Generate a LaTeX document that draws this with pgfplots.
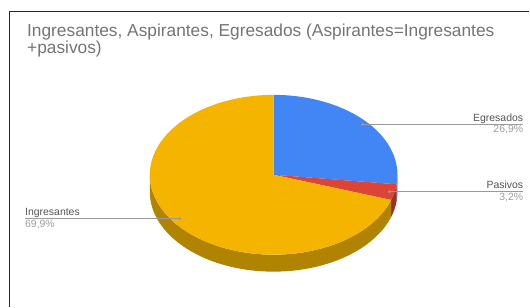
\documentclass[border=0pt]{standalone}
\usepackage{pgfplots}
\pgfplotsset{compat=1.18}
\usepackage{fontspec}
\setmainfont{Liberation Sans}
\definecolor{cblue}{HTML}{4285F4}
\definecolor{cred}{HTML}{DB4437}
\definecolor{cyel}{HTML}{F4B400}
\definecolor{sblue}{HTML}{2D5DB0}
\definecolor{sred}{HTML}{9E2F27}
\definecolor{syel}{HTML}{B08300}
\definecolor{ttl}{HTML}{757575}
\definecolor{lbl}{HTML}{555555}
\definecolor{pct}{HTML}{9E9E9E}
\definecolor{lin}{HTML}{9A9A9A}
\begin{document}
\begin{tikzpicture}
% data (percent)
\def\vEgr{26.9}
\def\vPas{3.2}
\def\vIng{69.9}
% geometry (pixels)
\def\cx{274}\def\cy{-175}\def\rx{124}\def\ry{80}\def\dep{17}
\pgfmathsetmacro\aA{90}
\pgfmathsetmacro\aB{\aA-3.6*\vEgr}
\pgfmathsetmacro\aC{\aB-3.6*\vPas}
\pgfmathsetmacro\aD{\aC-3.6*\vIng}
\pgfmathsetmacro\xA{\cx+\rx*cos(\aA)}\pgfmathsetmacro\yA{\cy+\ry*sin(\aA)}
\pgfmathsetmacro\xB{\cx+\rx*cos(\aB)}\pgfmathsetmacro\yB{\cy+\ry*sin(\aB)}
\pgfmathsetmacro\xC{\cx+\rx*cos(\aC)}\pgfmathsetmacro\yC{\cy+\ry*sin(\aC)}
\pgfmathsetmacro\xZ{\cx+\rx}\pgfmathsetmacro\xL{\cx-\rx}
\pgfmathsetmacro\yZ{\cy}\pgfmathsetmacro\yZd{\cy-\dep}
\pgfmathsetmacro\yBd{\yB-\dep}\pgfmathsetmacro\yCd{\yC-\dep}
\begin{axis}[scale only axis, width=530bp, height=307bp,
  xmin=0, xmax=530, ymin=-307, ymax=0, hide axis, clip=false]
\fill[white] (axis cs:0,-307) rectangle (axis cs:530,0);
% side walls
\fill[sblue] (axis cs:\xZ,\yZ) arc[start angle=0, end angle=\aB, x radius=\rx, y radius=\ry]
  -- (axis cs:\xB,\yBd) arc[start angle=\aB, end angle=0, x radius=\rx, y radius=\ry] -- cycle;
\fill[sred] (axis cs:\xB,\yB) arc[start angle=\aB, end angle=\aC, x radius=\rx, y radius=\ry]
  -- (axis cs:\xC,\yCd) arc[start angle=\aC, end angle=\aB, x radius=\rx, y radius=\ry] -- cycle;
\fill[syel] (axis cs:\xC,\yC) arc[start angle=\aC, end angle=-180, x radius=\rx, y radius=\ry]
  -- (axis cs:\xL,\yZd) arc[start angle=-180, end angle=\aC, x radius=\rx, y radius=\ry] -- cycle;
% top faces
\fill[cblue] (axis cs:\cx,\cy) -- (axis cs:\xA,\yA) arc[start angle=\aA, end angle=\aB, x radius=\rx, y radius=\ry] -- cycle;
\fill[cred] (axis cs:\cx,\cy) -- (axis cs:\xB,\yB) arc[start angle=\aB, end angle=\aC, x radius=\rx, y radius=\ry] -- cycle;
\fill[cyel] (axis cs:\cx,\cy) -- (axis cs:\xC,\yC) arc[start angle=\aC, end angle=\aD, x radius=\rx, y radius=\ry] -- cycle;
% leader lines
\draw[lin, line width=0.8bp] (axis cs:363,-124.5) -- (axis cs:524,-124.5);
\fill[lin] (axis cs:363,-124.5) circle[radius=1.6];
\draw[lin, line width=0.8bp] (axis cs:390,-192) -- (axis cs:524,-192);
\fill[lin] (axis cs:390,-192) circle[radius=1.6];
\draw[lin, line width=0.8bp] (axis cs:25,-219) -- (axis cs:180,-219);
\fill[lin] (axis cs:180,-219) circle[radius=1.6];
% labels
\node[anchor=base east, inner sep=0pt, text=lbl, font=\fontsize{10.5}{11}\selectfont] at (axis cs:524,-121.5) {Egresados};
\node[anchor=base east, inner sep=0pt, text=pct, font=\fontsize{10.5}{11}\selectfont] at (axis cs:524,-133) {26,9\%};
\node[anchor=base east, inner sep=0pt, text=lbl, font=\fontsize{10.5}{11}\selectfont] at (axis cs:524,-189) {Pasivos};
\node[anchor=base east, inner sep=0pt, text=pct, font=\fontsize{10.5}{11}\selectfont] at (axis cs:524,-200.5) {3,2\%};
\node[anchor=base west, inner sep=0pt, text=lbl, font=\fontsize{10.5}{11}\selectfont] at (axis cs:25,-216) {Ingresantes};
\node[anchor=base west, inner sep=0pt, text=pct, font=\fontsize{10.5}{11}\selectfont] at (axis cs:25,-227.5) {69,9\%};
% title
\node[anchor=base west, inner sep=0pt, text=ttl, align=left, font=\fontsize{17.4}{13.5}\selectfont] at (axis cs:27,-54) {Ingresantes, Aspirantes, Egresados (Aspirantes=Ingresantes\\+pasivos)};
% frame
\draw[black!85, line width=1.4bp] (axis cs:9.5,-307) -- (axis cs:9.5,-11.5) -- (axis cs:530,-11.5);
\end{axis}
\end{tikzpicture}
\end{document}
